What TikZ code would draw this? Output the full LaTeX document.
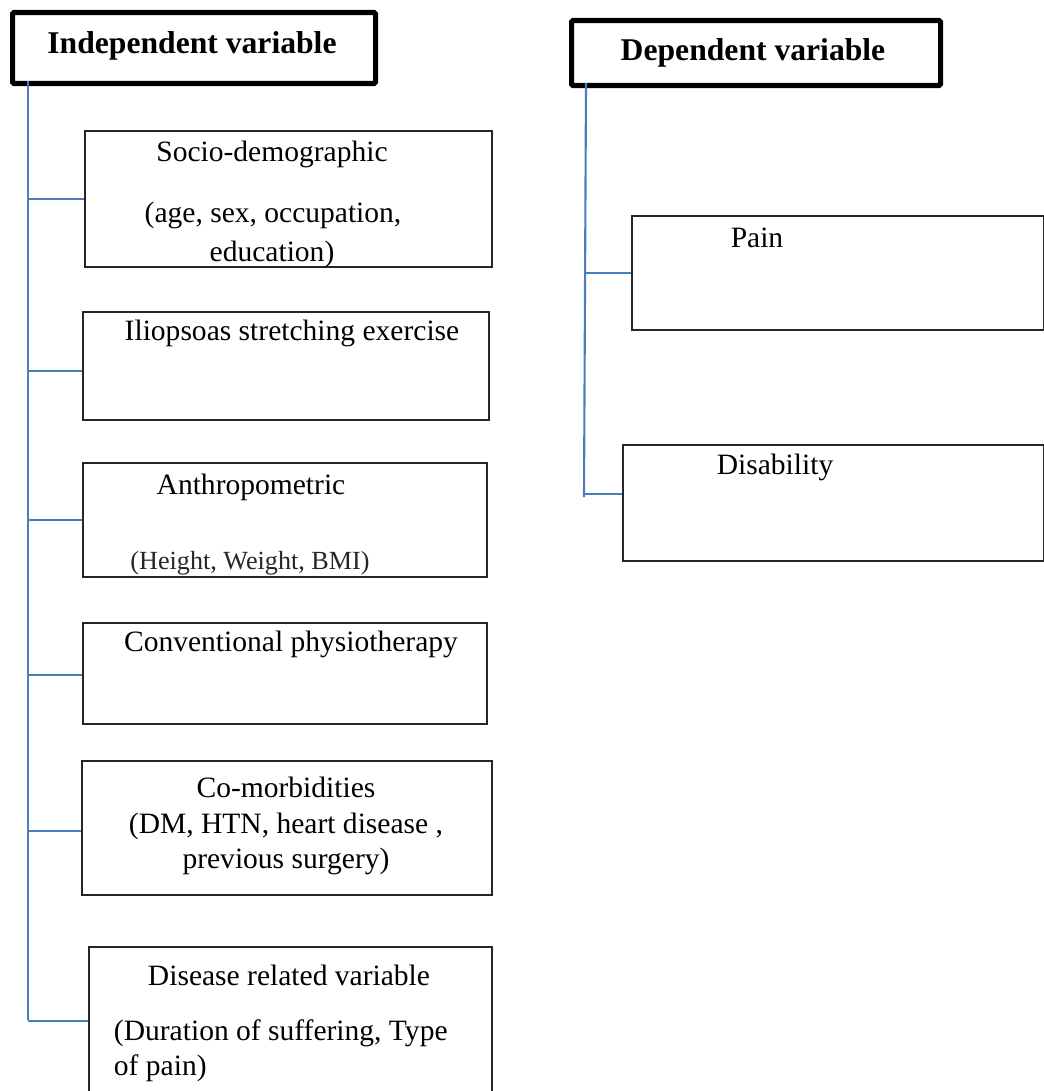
\documentclass[tikz,border=0pt]{standalone}
\usepackage{fontspec}
\setmainfont{Liberation Serif}
\usepackage{tikz}
\usepackage{xcolor}
\definecolor{linkblue}{HTML}{4A7EBB}
\newcommand{\pu}{0.025cm}

\begin{document}
\begin{tikzpicture}[x=0.025cm,y=-0.025cm,every node/.style={font=\fontsize{21}{25.3}\selectfont},
  headbox/.style={draw,line width=3.6pt,rounded corners=1pt,anchor=north west,inner sep=0pt},
  varbox/.style={draw=black!85,line width=1.1pt,anchor=north west,inner sep=0pt},
  link/.style={draw=linkblue,line width=1.5pt}]
\useasboundingbox (0,0) rectangle (1044,1091);
\node[headbox,minimum width=363*\pu,minimum height=71*\pu] (indhead) at (10,10) {};
\node[font=\fontsize{22.5}{27}\selectfont\bfseries] (indtxt) at (192,46) {Independent variable};
\node[headbox,minimum width=369*\pu,minimum height=65*\pu] (dephead) at (569,18) {};
\node[font=\fontsize{22.5}{27}\selectfont\bfseries] (deptxt) at (753,53) {Dependent variable};
\node[varbox,minimum width=407*\pu,minimum height=136*\pu] (socio) at (84,130) {};
\node (sociotxt) at (272,154) {Socio-demographic};
\node (sociolist) at (273,215) {(age, sex, occupation,};
\node (socioedu) at (272,254) {education)};
\node[varbox,minimum width=406*\pu,minimum height=108*\pu] (ilio) at (82,311) {};
\node (iliotxt) at (292,333) {Iliopsoas stretching exercise};
\node[varbox,minimum width=404*\pu,minimum height=114*\pu] (anthro) at (82,462) {};
\node (anthrotxt) at (251,487) {Anthropometric};
\node[font=\fontsize{18.6}{22}\selectfont,text=black!85] (anthrolist) at (250,563) {(Height, Weight, BMI)};
\node[varbox,minimum width=404*\pu,minimum height=101*\pu] (conv) at (82,622) {};
\node (convtxt) at (291,644) {Conventional physiotherapy};
\node[varbox,minimum width=410*\pu,minimum height=134*\pu] (comorb) at (81,760) {};
\node[align=center] (comorbtxt) at (286,826) {Co-morbidities\\(DM, HTN, heart disease ,\\previous surgery)};
\node[varbox,minimum width=403*\pu,minimum height=170*\pu] (disease) at (88,946) {};
\node (diseasetxt) at (289,975) {Disease related variable};
\node[align=left,anchor=west,font=\fontsize{21}{25}\selectfont] (diseaselist) at (109,1050.5) {(Duration of suffering, Type\\of pain)};
\node[varbox,minimum width=412*\pu,minimum height=114*\pu] (pain) at (631,215) {};
\node (paintxt) at (757,238) {Pain};
\node[varbox,minimum width=421*\pu,minimum height=116*\pu] (disab) at (622,444) {};
\node (disabtxt) at (775,467) {Disability};
\coordinate (indtop) at (28,81);
\coordinate (indend) at (28,1020);
\coordinate (deptop) at (586,83);
\coordinate (depend) at (584,497);
\draw[link] (indtop) -- (indend);
\draw[link] (deptop) -- (depend);
\draw[link] (socio.west -| indtop) -- (socio.west);
\draw[link] ([yshift=-4pt]ilio.west -| indtop) -- ([yshift=-4pt]ilio.west);
\draw[link] (anthro.west -| indtop) -- (anthro.west);
\draw[link] ([yshift=-1.4pt]conv.west -| indtop) -- ([yshift=-1.4pt]conv.west);
\draw[link] ([yshift=-2pt]comorb.west -| indtop) -- ([yshift=-2pt]comorb.west);
\draw[link] ([yshift=7.8pt]disease.west -| indtop) -- ([yshift=7.8pt]disease.west);
\draw[link] (pain.west -| deptop) -- (pain.west);
\draw[link] ([yshift=6.4pt]disab.west -| depend) -- ([yshift=6.4pt]disab.west);
\end{tikzpicture}
\end{document}
